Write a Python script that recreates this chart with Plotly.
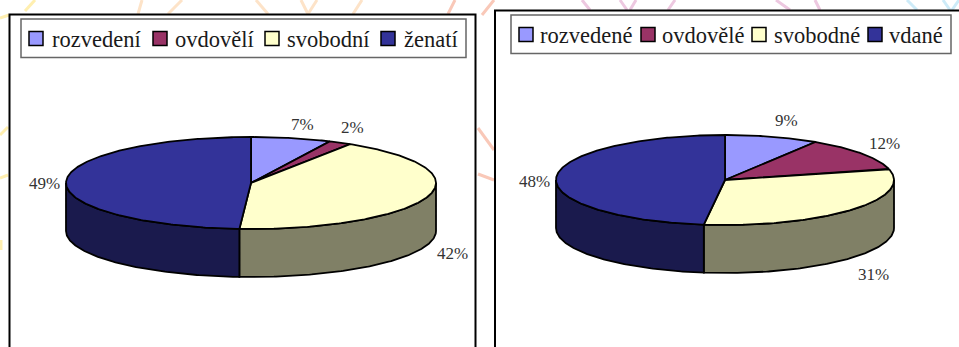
import math
import plotly.graph_objects as go

# ---- data ----
men_categories = ["rozvedení", "ovdovělí", "svobodní", "ženatí"]
men_values = [7, 2, 42, 49]
women_categories = ["rozvedené", "ovdovělé", "svobodné", "vdané"]
women_values = [9, 12, 31, 48]

# ---- styles ----
TOP_COLORS = ["#9999FF", "#993366", "#FFFFCC", "#333399"]
SIDE_COLORS = ["#4D4D80", "#4D1A33", "#808066", "#1A1A4D"]
SERIF = "Liberation Serif"
W, H = 959, 347

fig = go.Figure()


def arc(cx, cy, rx, ry, a, b, dy=0):
    n = max(2, int(abs(b - a) * 1.5))
    xs, ys = [], []
    for i in range(n + 1):
        t = math.radians(a + (b - a) * i / n)
        xs.append(cx + rx * math.sin(t))
        ys.append(cy - ry * math.cos(t) + dy)
    return xs, ys


def add_pie(names, values, cx, cy, rx, ry, depth):
    total = sum(values)
    angles = [0]
    for v in values:
        angles.append(angles[-1] + 360 * v / total)
    # side walls (only the front half of the disc shows them)
    for i, name in enumerate(names):
        a, b = max(angles[i], 90), min(angles[i + 1], 270)
        if b <= a:
            continue
        x1, y1 = arc(cx, cy, rx, ry, a, b)
        x2, y2 = arc(cx, cy, rx, ry, b, a, depth)
        fig.add_trace(go.Scatter(
            x=x1 + x2 + x1[:1], y=y1 + y2 + y1[:1], mode="lines", fill="toself",
            fillcolor=SIDE_COLORS[i], line=dict(color="black", width=1.8),
            name=name, showlegend=False, hoverinfo="skip"))
    # top faces
    for i, name in enumerate(names):
        x1, y1 = arc(cx, cy, rx, ry, angles[i], angles[i + 1])
        fig.add_trace(go.Scatter(
            x=[cx] + x1 + [cx], y=[cy] + y1 + [cy], mode="lines", fill="toself",
            fillcolor=TOP_COLORS[i], line=dict(color="black", width=1.8),
            name=name, showlegend=False, text=f"{values[i]}%", hoverinfo="name+text"))


def add_labels(values, positions):
    for v, (x, y) in zip(values, positions):
        fig.add_annotation(x=x, y=y, text=f"{v}%", showarrow=False, xref="x", yref="y",
                           font=dict(family=SERIF, size=17, color="#333333"))


def add_legend(names, box, swatch_x, text_x, cy):
    fig.add_shape(type="rect", x0=box[0], x1=box[1], y0=box[2], y1=box[3],
                  line=dict(color="#666666", width=1.5), fillcolor="white")
    for i, name in enumerate(names):
        fig.add_shape(type="rect", x0=swatch_x[i], x1=swatch_x[i] + 14, y0=cy - 7, y1=cy + 7,
                      line=dict(color="black", width=1.5), fillcolor=TOP_COLORS[i])
        fig.add_annotation(x=text_x[i], y=cy + 1, text=name, showarrow=False, xanchor="left",
                           xshift=-2, font=dict(family=SERIF, size=22.5, color="#1a1a1a"))


# ---- faint background swirls ----
swirls = [
    ("#FFEFB0", [(35, 0, 25, 11), (0, 18, 9, 15), (0, 135, 8, 127), (0, 178, 8, 175), (1, 250, 1, 240)]),
    ("#FDE3C8", [(142, 0, 138, 14), (182, 0, 168, 14), (256, 0, 268, 14), (301, 0, 308, 14),
                 (317, 0, 308, 14), (362, 0, 353, 14)]),
    ("#F9C8B8", [(455, 0, 448, 14), (494, 0, 482, 15), (478, 128, 494, 150), (478, 174, 494, 180)]),
    ("#EDC8E0", [(582, 0, 590, 10), (620, 0, 627, 10), (636, 0, 630, 10), (675, 0, 668, 10),
                 (776, 0, 790, 10), (815, 0, 820, 10)]),
    ("#CDEBF8", [(907, 0, 917, 10), (943, 0, 950, 10), (959, 0, 952, 10)]),
]
for color, segs in swirls:
    for x0, y0, x1, y1 in segs:
        fig.add_shape(type="line", x0=x0, y0=y0, x1=x1, y1=y1, layer="below",
                      line=dict(color=color, width=3))

# ---- panels (open at the bottom) ----
fig.add_shape(type="path", path="M 9.5 347 L 9.5 14.5 L 475.5 14.5 L 475.5 347",
              line=dict(color="black", width=2), fillcolor="white", layer="below")
fig.add_shape(type="path", path="M 495 347 L 495 10.5 L 960 10.5 L 960 347",
              line=dict(color="black", width=2), fillcolor="white", layer="below")

add_pie(men_categories, men_values, 251, 183, 185, 46, 48)
add_pie(women_categories, women_values, 725, 180, 169, 45, 48)

add_labels(men_values, [(302, 124), (352, 127), (452, 253), (44, 183)])
add_labels(women_values, [(786, 120), (884, 143), (873, 274), (534, 181)])

add_legend(men_categories, (21, 466, 19, 57.5), [29, 153, 265, 381], [52, 175, 287, 404], 38.5)
add_legend(women_categories, (511, 951, 15, 53.5), [519, 641, 752, 868], [540, 662, 774, 889], 34.5)

fig.update_layout(
    width=W, height=H, margin=dict(l=0, r=0, t=0, b=0), autosize=False,
    paper_bgcolor="white", plot_bgcolor="white", showlegend=False,
    xaxis=dict(range=[0, W], visible=False, fixedrange=True),
    yaxis=dict(range=[H, 0], visible=False, fixedrange=True),
)
fig.write_html("out.html", config={"displayModeBar": False},
               post_script="document.body.style.margin='0';document.body.style.overflow='hidden';")
